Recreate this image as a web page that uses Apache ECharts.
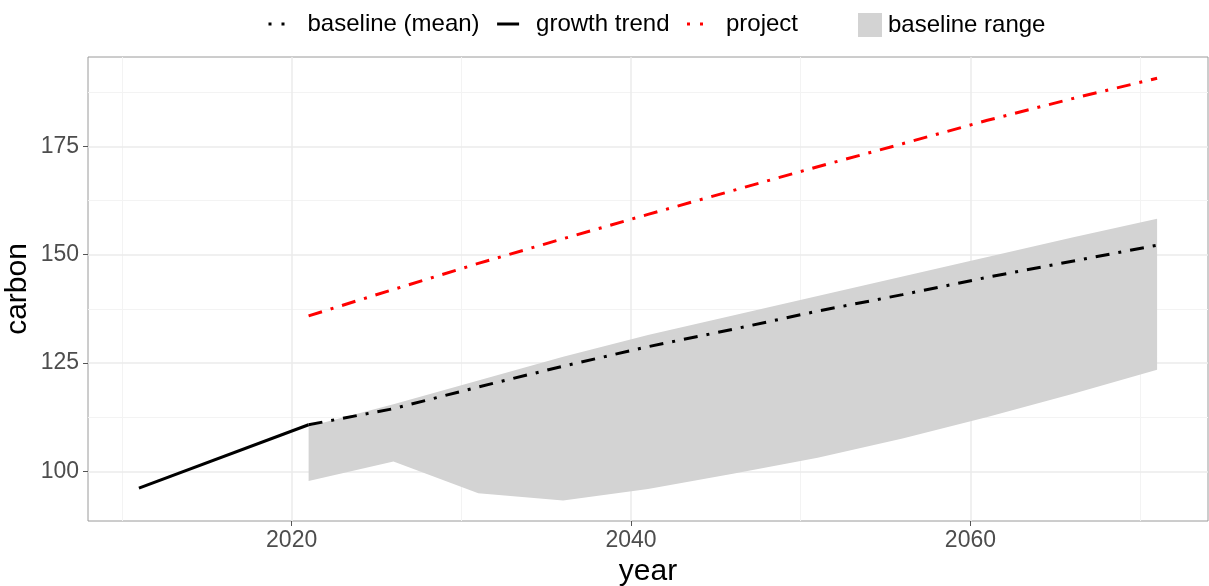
<!DOCTYPE html>
<html>
<head>
<meta charset="utf-8">
<script src="https://cdn.jsdelivr.net/npm/echarts@6/dist/echarts.min.js"></script>
<style>
  html, body { margin: 0; padding: 0; background: #fff; }
  #chart { width: 1209px; height: 586px; }
</style>
</head>
<body>
<div id="chart"></div>
<script>
// data
const growthYears = [2011, 2021];
const growthTrend = [96.2, 110.8];

const years = [2021, 2026, 2031, 2036, 2041, 2046, 2051, 2056, 2061, 2066, 2071];
const baselineMean = [110.8, 114.5, 119.5, 124.3, 128.8, 132.8, 137.0, 140.8, 144.8, 148.5, 152.2];
const project = [135.9, 142.0, 148.0, 153.7, 159.3, 164.8, 170.3, 175.6, 181.0, 186.0, 190.7];
const rangeLower = [97.8, 102.3, 95.0, 93.3, 96.0, 99.5, 103.2, 107.6, 112.6, 117.9, 123.5];
const rangeUpper = [110.4, 115.5, 121.0, 126.5, 131.5, 136.0, 140.5, 145.0, 149.5, 154.0, 158.3];

// ticks and grid lines
const xTicks = [2020, 2040, 2060];
const xMinor = [2010, 2030, 2050, 2070];
const yTicks = [100, 125, 150, 175];
const yMinor = [112.5, 137.5, 162.5, 187.5];

const pairs = (xs, ys) => xs.map((x, i) => [x, ys[i]]);
const dotdash = [14, 9, 3, 9];
const font = 'Liberation Sans, Arial, sans-serif';
const noSymbol = { color: 'rgba(0,0,0,0)', borderWidth: 0, opacity: 0 };

const chart = echarts.init(document.getElementById('chart'));

const gridLines = [].concat(
  xMinor.map(v => ({ xAxis: v, lineStyle: { color: '#f3f3f3', width: 1, type: 'solid' } })),
  yMinor.map(v => ({ yAxis: v, lineStyle: { color: '#f3f3f3', width: 1, type: 'solid' } })),
  xTicks.map(v => ({ xAxis: v, lineStyle: { color: '#ebebeb', width: 1.5, type: 'solid' } })),
  yTicks.map(v => ({ yAxis: v, lineStyle: { color: '#ebebeb', width: 1.5, type: 'solid' } }))
);

const option = {
  animation: false,
  backgroundColor: '#fff',
  textStyle: { fontFamily: font },
  grid: {
    left: 88, right: 1, top: 57, bottom: 65,
    show: true, borderColor: '#9a9a9a', borderWidth: 1,
    outerBoundsMode: 'none'
  },
  legend: [
    {
      left: 262, top: 7,
      itemWidth: 22, itemHeight: 14, itemGap: 16,
      textStyle: { fontSize: 24, color: '#000', fontFamily: font, padding: [0, 0, 0, 12] },
      data: [
        { name: 'baseline (mean)', itemStyle: noSymbol, lineStyle: { type: [3, 10], width: 3 } },
        { name: 'growth trend', itemStyle: noSymbol, lineStyle: { width: 3 } },
        { name: 'project', itemStyle: noSymbol, lineStyle: { type: [3, 10], width: 3 } }
      ]
    },
    {
      left: 853, top: 8,
      itemWidth: 24, itemHeight: 24,
      textStyle: { fontSize: 24, color: '#000', fontFamily: font, padding: [0, 0, 0, 1] },
      data: [{ name: 'baseline range', icon: 'rect', itemStyle: { color: '#d3d3d3' } }]
    }
  ],
  xAxis: {
    type: 'value', min: 2008, max: 2074,
    name: 'year', nameLocation: 'middle', nameGap: 34,
    nameTextStyle: { fontSize: 30, color: '#000', fontFamily: font },
    axisLine: { show: false },
    axisTick: { show: true, length: 5, customValues: xTicks, lineStyle: { color: '#555' } },
    axisLabel: { customValues: xTicks, fontSize: 23, color: '#4d4d4d', margin: 8, fontFamily: font,
      formatter: v => String(v) },
    splitLine: { show: false }
  },
  yAxis: {
    type: 'value', min: 88.6, max: 195.6,
    name: 'carbon', nameLocation: 'middle', nameGap: 55, nameMoveOverlap: false,
    nameTextStyle: { fontSize: 30, color: '#000', fontFamily: font },
    axisLine: { show: false },
    axisTick: { show: true, length: 5, customValues: yTicks, lineStyle: { color: '#555' } },
    axisLabel: { customValues: yTicks, fontSize: 23, color: '#4d4d4d', margin: 9, fontFamily: font,
      formatter: v => String(v) },
    splitLine: { show: false }
  },
  series: [
    {
      name: 'grid', type: 'line', data: [], silent: true, z: 0,
      markLine: { z: 0, silent: true, symbol: 'none', label: { show: false }, animation: false, data: gridLines }
    },
    {
      name: 'baseline range', type: 'custom', z: 2, silent: true,
      itemStyle: { color: '#d3d3d3' },
      data: pairs(years, rangeUpper),
      renderItem: (params, api) => {
        if (params.dataIndex !== 0) return null;
        const top = years.map((y, i) => api.coord([y, rangeUpper[i]]));
        const bottom = years.map((y, i) => api.coord([y, rangeLower[i]])).reverse();
        return {
          type: 'polygon',
          shape: { points: top.concat(bottom) },
          style: { fill: '#d3d3d3' }
        };
      }
    },
    {
      name: 'growth trend', type: 'line', symbol: 'none', z: 3,
      itemStyle: { color: '#000' },
      lineStyle: { color: '#000', width: 3 },
      data: pairs(growthYears, growthTrend)
    },
    {
      name: 'baseline (mean)', type: 'line', symbol: 'none', z: 3,
      itemStyle: { color: '#000' },
      lineStyle: { color: '#000', width: 3, type: dotdash },
      data: pairs(years, baselineMean)
    },
    {
      name: 'project', type: 'line', symbol: 'none', z: 3,
      itemStyle: { color: '#ff0000' },
      lineStyle: { color: '#ff0000', width: 3, type: dotdash },
      data: pairs(years, project)
    }
  ]
};

chart.setOption(option);
</script>
</body>
</html>
